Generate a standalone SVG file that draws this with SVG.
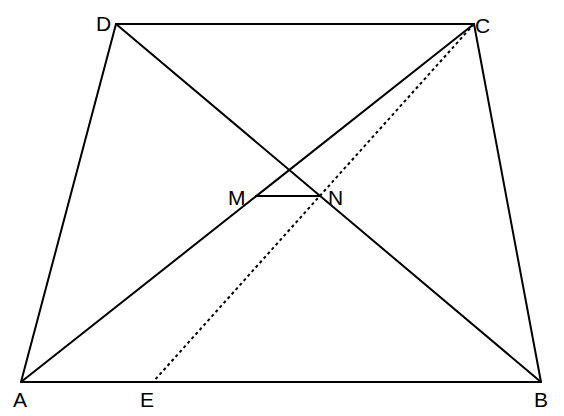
<svg xmlns="http://www.w3.org/2000/svg" width="564" height="416" viewBox="0 0 564 416">
<style>
.l{stroke:#000;stroke-width:2;fill:none;stroke-linecap:round}
.d{stroke:#000;stroke-width:2;fill:none;stroke-dasharray:3 3}
text{font-family:"Liberation Sans",Arial,sans-serif;font-size:21px;fill:#000}
</style>
<rect width="564" height="416" fill="#fff"/>
<g id="connectors">
<line class="l" x1="21" y1="382" x2="541" y2="382"/>
<line class="l" x1="21" y1="382" x2="116" y2="24"/>
<line class="l" x1="116" y1="24" x2="474" y2="24"/>
<line class="l" x1="474" y1="24" x2="541" y2="382"/>
<line class="l" x1="21" y1="382" x2="474" y2="24"/>
<line class="l" x1="116" y1="24" x2="541" y2="382"/>
<line class="l" x1="256" y1="196" x2="320" y2="196"/>
<line class="d" x1="474" y1="24" x2="153" y2="382"/>
</g>
<g id="D"><text x="96" y="31">D</text></g>
<g id="C"><text x="475" y="33">C</text></g>
<g id="A"><text x="13" y="407">A</text></g>
<g id="E"><text x="140" y="407">E</text></g>
<g id="B"><text x="534" y="407">B</text></g>
<g id="M"><text x="228" y="205">M</text></g>
<g id="N"><text x="328" y="205">N</text></g>
</svg>
